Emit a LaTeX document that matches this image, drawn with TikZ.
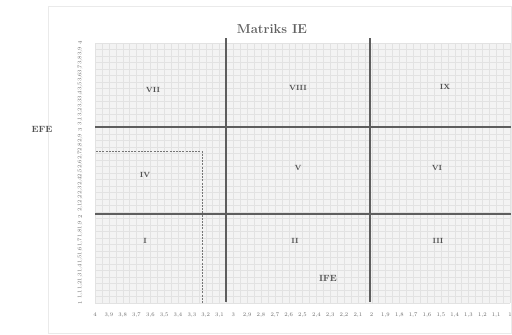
\documentclass[tikz,border=0pt]{standalone}
\usetikzlibrary{calc}
\definecolor{gridbg}{HTML}{F3F3F3}
\definecolor{gridln}{HTML}{E2E2E2}
\definecolor{frameln}{HTML}{EAEAEA}
\definecolor{mainln}{HTML}{5E5E5E}
\definecolor{txt}{HTML}{505050}
\tikzset{
  region/.style={font=\fontsize{7.5}{8}\selectfont\bfseries, text=txt},
  axistitle/.style={font=\fontsize{9}{10}\selectfont\bfseries, text=txt},
  ticklbl/.style={font=\fontsize{5.5}{6}\selectfont, text=txt!85, inner sep=0pt},
  divider/.style={draw=mainln, line width=1.2pt},
}
\begin{document}
\begin{tikzpicture}[x=1pt,y=-1pt]
\useasboundingbox (0,0) rectangle (512,335);
\fill[white] (0,0) rectangle (512,335);
% outer frame
\draw[frameln, line width=0.8pt] (48,6) rectangle (511.5,333);
% grid area
\fill[gridbg] (95,43) rectangle (510,303);
\foreach \i in {0,...,60} {
  \draw[gridln, line width=0.3pt] ({95+\i*6.9167},43) -- ({95+\i*6.9167},303);
}
\foreach \j in {0,...,40} {
  \draw[gridln, line width=0.3pt] (95,{43+\j*6.5}) -- (510,{43+\j*6.5});
}
% title
\node[font=\fontsize{13}{14}\selectfont\bfseries, text=txt!90] (title) at (272,29) {Matriks IE};
% dividers
\coordinate (v1t) at (226,38); \coordinate (v1b) at (226,302);
\coordinate (v2t) at (370,38); \coordinate (v2b) at (370,302);
\coordinate (h1l) at (95,127); \coordinate (h1r) at (511,127);
\coordinate (h2l) at (95,214); \coordinate (h2r) at (511,214);
\draw[divider] (v1t) -- (v1b);
\draw[divider] (v2t) -- (v2b);
\draw[divider] (h1l) -- (h1r);
\draw[divider] (h2l) -- (h2r);
% dashed rectangle
\coordinate (d1) at (96,151); \coordinate (d2) at (202,151); \coordinate (d3) at (202,303);
\draw[mainln!85, dash pattern=on 2pt off 1.2pt, line width=1pt] (d1) -- (d2) -- (d3);
% region labels
\node[region] (r7) at (153,90) {VII};
\node[region] (r8) at (298,88) {VIII};
\node[region] (r9) at (445,87) {IX};
\node[region] (r4) at (145,175) {IV};
\node[region] (r5) at (298,168) {V};
\node[region] (r6) at (437,168) {VI};
\node[region] (r1) at (145,241) {I};
\node[region] (r2) at (295,241) {II};
\node[region] (r3) at (438,241) {III};
% axis titles
\node[axistitle] (ife) at (328,278) {IFE};
\node[axistitle] (efe) at (42,129) {EFE};
% x tick labels
\foreach \k in {0,...,30} {
  \pgfmathtruncatemacro{\ip}{3-floor((\k-1)/10)}
  \pgfmathtruncatemacro{\dd}{mod(30-\k,10)}
  \pgfmathsetmacro{\xx}{95+\k*13.8333}
  \ifnum\dd=0
    \node[ticklbl] (xt\k) at (\xx,315) {\the\numexpr 4-\k/10\relax};
  \else
    \node[ticklbl] (xt\k) at (\xx,315) {\ip,\dd};
  \fi
}
% y tick labels
\foreach \k in {0,...,30} {
  \pgfmathtruncatemacro{\ip}{3-floor((\k-1)/10)}
  \pgfmathtruncatemacro{\dd}{mod(30-\k,10)}
  \pgfmathsetmacro{\yy}{43+\k*8.6667}
  \ifnum\dd=0
    \node[ticklbl, rotate=90] (yt\k) at (80,\yy) {\the\numexpr 4-\k/10\relax};
  \else
    \node[ticklbl, rotate=90] (yt\k) at (80,\yy) {\ip,\dd};
  \fi
}
\end{tikzpicture}
\end{document}
